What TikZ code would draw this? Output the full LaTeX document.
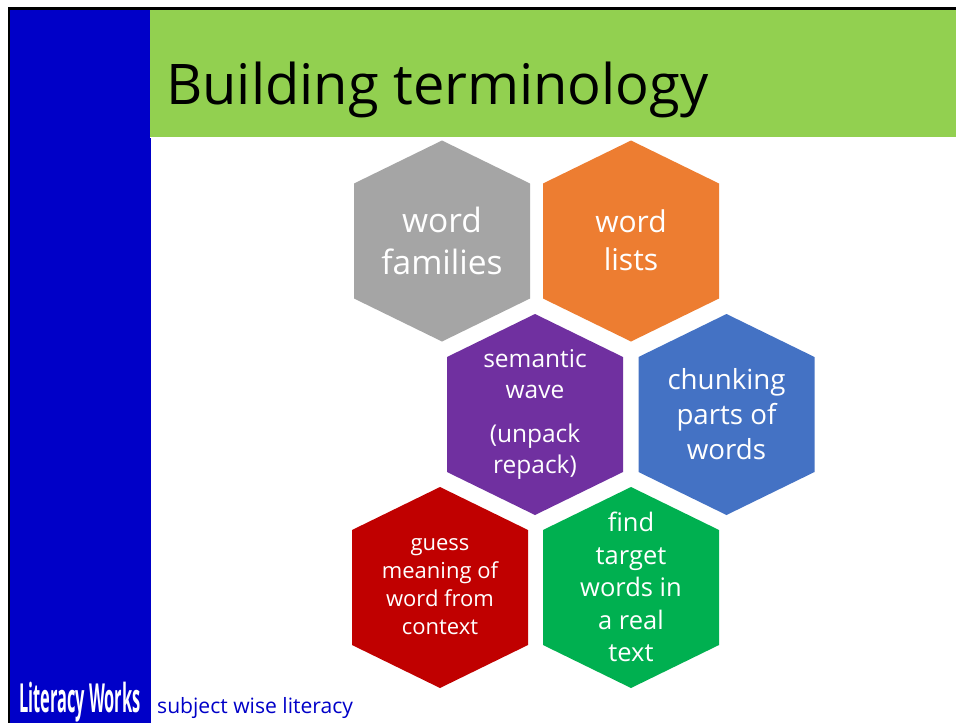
\documentclass[tikz,border=0pt]{standalone}
\usepackage{fontspec}
\setmainfont{Open Sans}
\definecolor{sideblue}{HTML}{0000C8}
\definecolor{titlegreen}{HTML}{92D050}
\definecolor{hexgray}{HTML}{A5A5A5}
\definecolor{hexorange}{HTML}{ED7D31}
\definecolor{hexpurple}{HTML}{7030A0}
\definecolor{hexblue}{HTML}{4472C4}
\definecolor{hexred}{HTML}{C00000}
\definecolor{hexgreen}{HTML}{00B050}
\tikzset{
  hexlabel/.style={text=white,align=center,inner sep=0pt},
}
\newcommand{\hexa}[7]{% name, cx, top, colour, font size, leading, text
  \fill[#4] (#2,#3) -- (#2+88,#3+43) -- (#2+88,#3+158) -- (#2,#3+201) -- (#2-88,#3+158) -- (#2-88,#3+43) -- cycle;
  \node[hexlabel,font=\fontsize{#5}{#6}\selectfont] (#1) at (#2,#3+100) {#7};
}
\begin{document}
\begin{tikzpicture}[x=1pt,y=-1pt]
\useasboundingbox (0,0) rectangle (956,723);
\fill[white] (0,0) rectangle (956,723);
\fill[black] (7.5,7) rectangle (956,723);
\fill[white] (10,9.5) rectangle (956,723);
\fill[sideblue] (10,9.5) rectangle (149.5,723);
\fill[sideblue] (149.5,137.5) rectangle (151,723);
\fill[titlegreen] (150,9.5) rectangle (956,136.5);
\node[anchor=base west,inner sep=0pt,font=\fontsize{56}{66}\selectfont] (title) at (166,104) {Building terminology};
\hexa{families}{442}{140.5}{hexgray}{33.5}{42}{word\\families}
\hexa{lists}{631}{140.5}{hexorange}{30}{38}{word\\lists}
\hexa{wave}{535}{314}{hexpurple}{24.5}{31}{semantic\\wave\\[13pt](unpack\\repack)}
\hexa{chunking}{726.5}{314}{hexblue}{27.7}{35}{chunking\\parts of\\words}
\hexa{guess}{440}{487}{hexred}{22}{28}{guess\\meaning of\\word from\\context}
\hexa{target}{631}{487}{hexgreen}{25.5}{32.5}{find\\target\\words in\\a real\\text}
\node[anchor=base west,inner sep=0pt,text=white,font=\fontsize{40}{40}\selectfont\bfseries,xscale=0.41] (logo) at (19,712) {Literacy Works};
\node[anchor=base west,inner sep=0pt,text=sideblue,font=\fontsize{21.1}{26}\selectfont] (sub) at (157,713) {subject wise literacy};
\end{tikzpicture}
\end{document}
